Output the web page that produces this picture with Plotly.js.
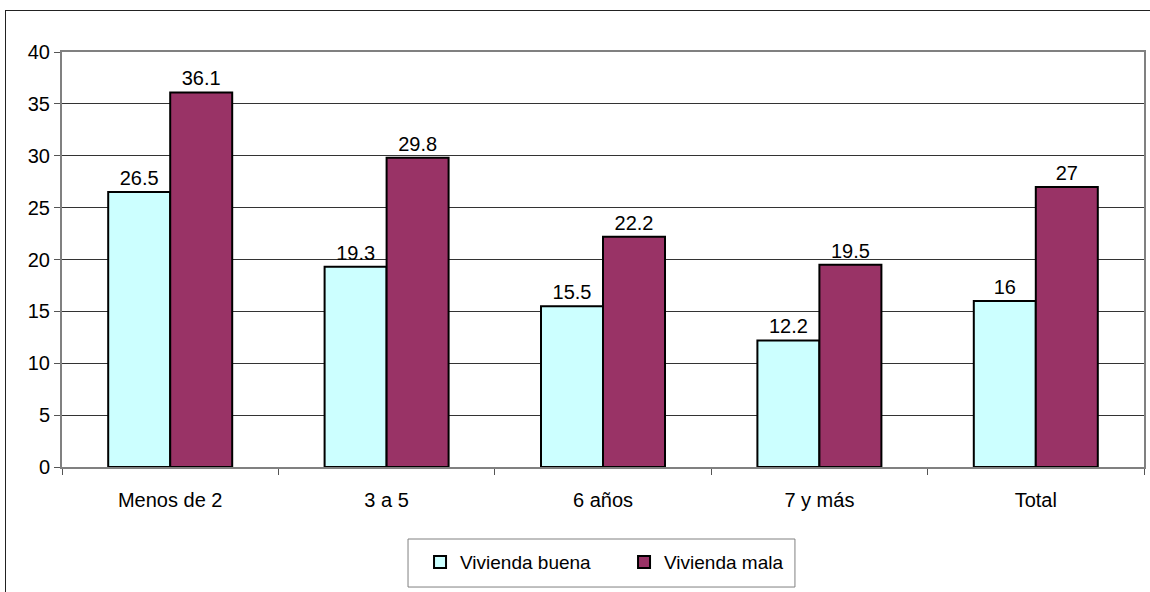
<!DOCTYPE html>
<html>
<head>
<meta charset="utf-8">
<script src="https://cdn.plot.ly/plotly-3.0.1.min.js"></script>
<style>
  html, body { margin: 0; padding: 0; background: #fff; overflow: hidden; }
  #frame { position: absolute; left: 5px; top: 10px; width: 1300px; height: 800px; border: 1px solid #222; box-sizing: border-box; }
  #chart { position: absolute; left: 0; top: 0; width: 1150px; height: 592px; }
</style>
</head>
<body>
<div id="frame"></div>
<div id="chart"></div>
<script>
// Categories (age groups) and the two housing-quality series
const categories = ["Menos de 2", "3 a 5", "6 años", "7 y más", "Total"];
const viviendaBuena = [26.5, 19.3, 15.5, 12.2, 16];
const viviendaMala = [36.1, 29.8, 22.2, 19.5, 27];
const yTicks = [0, 5, 10, 15, 20, 25, 30, 35, 40];

const font = { family: "Liberation Sans, Arial, sans-serif", size: 20, color: "#000" };
const legendFont = { family: "Liberation Sans, Arial, sans-serif", size: 19, color: "#000" };

function barTrace(name, values, color) {
  return {
    type: "bar",
    name: name,
    x: categories,
    y: values,
    text: values.map(v => String(v)),
    textposition: "outside",
    textfont: font,
    cliponaxis: false,
    constraintext: "none",
    marker: { color: color, line: { color: "#000", width: 2 } },
    hoverinfo: "x+y+name"
  };
}

const data = [
  barTrace("Vivienda buena", viviendaBuena, "#CCFFFF"),
  barTrace("Vivienda mala", viviendaMala, "#993366")
];

const layout = {
  width: 1150,
  height: 592,
  margin: { l: 62, r: 6, t: 52, b: 125 },
  paper_bgcolor: "rgba(0,0,0,0)",
  plot_bgcolor: "#fff",
  font: font,
  barmode: "group",
  bargap: 0.427,
  bargroupgap: 0,
  showlegend: true,
  legend: {
    orientation: "h",
    x: 0.3309,
    xanchor: "left",
    y: -0.1832,
    yanchor: "top",
    borderwidth: 0,
    bgcolor: "rgba(0,0,0,0)",
    font: legendFont,
    itemwidth: 30,
    entrywidth: 159
  },
  // frame around the legend entries
  shapes: [{
    type: "rect",
    xref: "paper", yref: "paper",
    x0: 0.3198, x1: 0.6774,
    y0: -0.2892, y1: -0.1735,
    line: { color: "#808080", width: 1 },
    fillcolor: "#fff",
    layer: "below"
  }],
  xaxis: {
    type: "category",
    tickson: "boundaries",
    ticks: "outside",
    ticklen: 6,
    tickcolor: "#555",
    tickfont: font,
    ticklabelstandoff: 14,
    showline: true,
    linecolor: "#808080",
    linewidth: 2,
    mirror: true,
    showgrid: false,
    zeroline: false
  },
  yaxis: {
    range: [0, 40],
    tickvals: yTicks,
    ticktext: yTicks.map(String),
    ticks: "outside",
    ticklen: 6,
    tickcolor: "#555",
    tickfont: font,
    ticklabelstandoff: 0,
    showline: true,
    linecolor: "#808080",
    linewidth: 2,
    mirror: true,
    showgrid: true,
    gridcolor: "#333",
    gridwidth: 1,
    zeroline: false
  }
};

Plotly.newPlot("chart", data, layout, { displayModeBar: false, staticPlot: true });
</script>
</body>
</html>
